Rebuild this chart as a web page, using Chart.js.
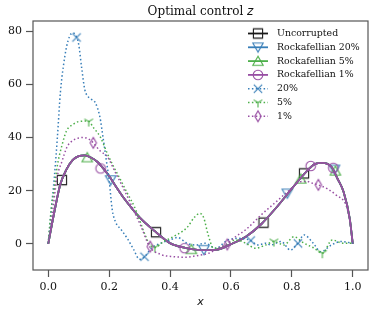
<!DOCTYPE html>
<html>
<head>
<meta charset="utf-8">
<script src="https://cdn.jsdelivr.net/npm/chart.js@4.4.0/dist/chart.umd.min.js"></script>
<style>
  html, body { margin: 0; padding: 0; background: #fff; }
  #wrap { width: 374px; height: 316px; }
</style>
</head>
<body>
<div id="wrap"><canvas id="chart" width="374" height="316"></canvas></div>
<script>
'use strict';

const xTicks = [0, 0.2, 0.4, 0.6, 0.8, 1.0];
const yTicks = [0, 20, 40, 60, 80];

// solid curve shared by uncorrupted and rockafellian solutions (they overlap)
const baseX = [0, 0.02, 0.04, 0.06, 0.08, 0.1, 0.12, 0.14, 0.16, 0.18, 0.2, 0.22, 0.25, 0.3, 0.35, 0.4, 0.45, 0.5, 0.55, 0.6, 0.65, 0.7, 0.75, 0.8, 0.85, 0.875, 0.9, 0.93, 0.95, 0.97, 0.99, 1.0];
const baseY = [0, 12, 22.5, 28, 31.5, 33, 33.3, 32.5, 31, 28.5, 25.5, 22, 17, 10, 4.8, 0.3, -1.5, -2.3, -2.2, -0.1, 2.8, 7.5, 13.8, 20.8, 27.5, 30, 30.5, 29, 24.5, 19.5, 9.5, 0];

// noisy solutions
const x20 = [0, 0.01, 0.02, 0.03, 0.04, 0.05, 0.06, 0.07, 0.08, 0.09, 0.1, 0.11, 0.12, 0.13, 0.14, 0.155, 0.17, 0.18, 0.19, 0.2, 0.21, 0.22, 0.24, 0.26, 0.28, 0.3, 0.315, 0.34, 0.37, 0.4, 0.425, 0.455, 0.485, 0.515, 0.55, 0.59, 0.625, 0.66, 0.69, 0.715, 0.73, 0.765, 0.795, 0.82, 0.84, 0.87, 0.895, 0.93, 0.96, 1.0];
const y20 = [0, 13, 25, 40, 57, 67, 74, 78, 79.3, 78.5, 75, 66, 58, 55.5, 54.5, 53, 47.5, 40, 32, 24, 13, 8.5, 5.3, 2, -2, -5.8, -5, -1.5, 0.3, 1.5, 2.4, 0.3, -0.4, 0.3, -1.6, 1.5, 2.1, 1.5, -0.4, 0.3, -0.4, 0.9, -2.3, 0.3, 3.4, 0.3, -2.9, -0.4, 0.9, 0.3];

const x5 = [0, 0.01, 0.02, 0.03, 0.045, 0.06, 0.08, 0.1, 0.13, 0.15, 0.172, 0.194, 0.215, 0.238, 0.26, 0.283, 0.3, 0.316, 0.338, 0.35, 0.379, 0.41, 0.456, 0.48, 0.498, 0.51, 0.525, 0.542, 0.555, 0.582, 0.615, 0.648, 0.681, 0.714, 0.741, 0.774, 0.807, 0.84, 0.873, 0.9, 0.933, 0.966, 1.0];
const y5 = [0, 13, 21, 29.5, 37, 42.5, 44.8, 46, 46.2, 43.5, 40, 34, 29, 24, 19, 14, 9, 4, -1, -1.3, 0.9, 2.7, 6.2, 10, 11.5, 10, 3.5, -1.5, -1.6, -0.4, 1.5, 0.3, -1.6, -0.4, 0.9, -0.4, 2.7, 0.3, -1.6, -3.5, 1.5, 0.3, 0.3];

const x1 = [0, 0.01, 0.029, 0.045, 0.062, 0.08, 0.1, 0.117, 0.135, 0.148, 0.17, 0.194, 0.22, 0.26, 0.283, 0.305, 0.333, 0.368, 0.412, 0.454, 0.484, 0.527, 0.56, 0.586, 0.615, 0.65, 0.7, 0.75, 0.785, 0.829, 0.85, 0.868, 0.887, 0.92, 0.945, 0.978, 0.99, 1.0];
const y1 = [0, 8, 25, 31, 36.5, 38.8, 39.8, 40, 39.3, 38, 35, 32.8, 27, 17.8, 12, 6.5, -1, -3.9, -4.8, -5, -4.5, -3.5, -1.6, 0, 2.7, 5.5, 11, 16, 19.5, 23.4, 23.5, 22.8, 22.2, 20.5, 18.4, 14.5, 9, 0];

// marker positions
const mkUncX = [0.045, 0.354, 0.707, 0.84];
const mkUncY = [24, 4.4, 8, 26.5];
const mkR20X = [0.205, 0.511, 0.785, 0.94];
const mkR20Y = [24, -2.2, 19, 28];
const mkR5X = [0.128, 0.47, 0.829, 0.943];
const mkR5Y = [32.5, -2, 24.5, 27.5];
const mkR1X = [0.172, 0.448, 0.862, 0.936];
const mkR1Y = [28.4, -1.6, 29.3, 28.6];
const mk20X = [0.093, 0.316, 0.665, 0.82];
const mk20Y = [77.6, -4.8, 1.3, 0.2];
const mk5X = [0.133, 0.35, 0.741, 0.9];
const mk5Y = [46, -1.3, 0.9, -3.5];
const mk1X = [0.148, 0.335, 0.588, 0.887];
const mk1Y = [38, -1, -0.2, 22.2];

const blue = '#377eb8';
const green = '#4daf4a';
const purple = '#984ea3';
const black = '#1a1a1a';
const serif = "'DejaVu Serif', serif";

function pts(xs, ys) { return xs.map((x, i) => ({x: x, y: ys[i]})); }

function markerImg(kind, color) {
  const s = 16;
  const c = document.createElement('canvas');
  c.width = s; c.height = s;
  const g = c.getContext('2d');
  g.strokeStyle = color;
  g.lineWidth = 1.1;
  g.translate(s / 2, s / 2);
  g.beginPath();
  switch (kind) {
    case 'square': g.rect(-4.6, -4.6, 9.2, 9.2); break;
    case 'tridown': g.moveTo(0, 4.8); g.lineTo(-5.2, -4.2); g.lineTo(5.2, -4.2); g.closePath(); break;
    case 'triup': g.moveTo(0, -4.8); g.lineTo(-5.2, 4.2); g.lineTo(5.2, 4.2); g.closePath(); break;
    case 'circle': g.arc(0, 0, 4.8, 0, Math.PI * 2); break;
    case 'x':
      g.moveTo(-4.2, -4.2); g.lineTo(4.2, 4.2);
      g.moveTo(4.2, -4.2); g.lineTo(-4.2, 4.2); break;
    case 'tri':
      g.moveTo(0, 0); g.lineTo(0, 5);
      g.moveTo(0, 0); g.lineTo(-4.4, -2.6);
      g.moveTo(0, 0); g.lineTo(4.4, -2.6); break;
    case 'diamond': g.moveTo(0, -5.4); g.lineTo(3.2, 0); g.lineTo(0, 5.4); g.lineTo(-3.2, 0); g.closePath(); break;
  }
  g.stroke();
  return c;
}

const series = [
  {label: 'Uncorrupted', xs: baseX, ys: baseY, mx: mkUncX, my: mkUncY, color: black, marker: 'square', dotted: false},
  {label: 'Rockafellian 20%', xs: baseX, ys: baseY, mx: mkR20X, my: mkR20Y, color: blue, marker: 'tridown', dotted: false},
  {label: 'Rockafellian 5%', xs: baseX, ys: baseY, mx: mkR5X, my: mkR5Y, color: green, marker: 'triup', dotted: false},
  {label: 'Rockafellian 1%', xs: baseX, ys: baseY, mx: mkR1X, my: mkR1Y, color: purple, marker: 'circle', dotted: false},
  {label: '20%', xs: x20, ys: y20, mx: mk20X, my: mk20Y, color: blue, marker: 'x', dotted: true},
  {label: '5%', xs: x5, ys: y5, mx: mk5X, my: mk5Y, color: green, marker: 'tri', dotted: true},
  {label: '1%', xs: x1, ys: y1, mx: mk1X, my: mk1Y, color: purple, marker: 'diamond', dotted: true}
];

const dotDash = [1.5, 2.4];
const datasets = [];
series.forEach((s, k) => {
  s.img = markerImg(s.marker, s.color);
  datasets.push({
    data: pts(s.xs, s.ys),
    borderColor: s.color,
    borderWidth: s.dotted ? 1.5 : 1.8,
    borderDash: s.dotted ? dotDash : [],
    cubicInterpolationMode: 'monotone',
    pointRadius: 0,
    fill: false,
    order: 100 - 2 * k
  });
  datasets.push({
    data: pts(s.mx, s.my),
    showLine: false,
    pointStyle: s.img,
    pointRadius: 5,
    borderColor: s.color,
    order: 99 - 2 * k
  });
});

const frameAndText = {
  id: 'frameAndText',
  afterDraw(chart) {
    const ctx = chart.ctx;
    const a = chart.chartArea;
    ctx.save();
    ctx.strokeStyle = '#555';
    ctx.lineWidth = 1.2;
    ctx.strokeRect(a.left, a.top, a.right - a.left, a.bottom - a.top);

    // title
    ctx.fillStyle = '#111';
    ctx.textBaseline = 'middle';
    const t1 = 'Optimal control ';
    ctx.font = '12px ' + serif;
    const w1 = ctx.measureText(t1).width;
    ctx.font = "italic 12px 'DejaVu Sans', sans-serif";
    const w2 = ctx.measureText('z').width;
    const cx = (a.left + a.right) / 2;
    const tx = cx - (w1 + w2) / 2;
    ctx.textAlign = 'left';
    ctx.font = '12px ' + serif;
    ctx.fillText(t1, tx, 12);
    ctx.font = "italic 12px 'DejaVu Sans', sans-serif";
    ctx.fillText('z', tx + w1, 12);

    // x label
    ctx.textAlign = 'center';
    ctx.font = "italic 11px 'DejaVu Sans', sans-serif";
    ctx.fillText('x', cx, 302);

    // legend
    const lx0 = 248, lx1 = 268, tx0 = 277;
    ctx.font = '9.4px ' + serif;
    series.forEach((s, i) => {
      const y = 33.5 + i * 13.8;
      ctx.strokeStyle = s.color;
      ctx.lineWidth = s.dotted ? 1.5 : 1.8;
      ctx.setLineDash(s.dotted ? dotDash : []);
      ctx.beginPath();
      ctx.moveTo(lx0, y);
      ctx.lineTo(lx1, y);
      ctx.stroke();
      ctx.setLineDash([]);
      ctx.drawImage(s.img, (lx0 + lx1) / 2 - s.img.width / 2, y - s.img.height / 2);
      ctx.fillStyle = '#111';
      ctx.textAlign = 'left';
      ctx.fillText(s.label, tx0, y);
    });
    ctx.restore();
  }
};

new Chart(document.getElementById('chart'), {
  type: 'line',
  data: {datasets: datasets},
  options: {
    responsive: false,
    animation: false,
    events: [],
    layout: {padding: {top: 21, right: 6, left: 0, bottom: 0}},
    plugins: {legend: {display: false}, title: {display: false}, tooltip: {enabled: false}},
    scales: {
      x: {
        type: 'linear',
        min: -0.05,
        max: 1.05,
        afterBuildTicks: (scale) => { scale.ticks = xTicks.map(v => ({value: v})); },
        afterFit: (scale) => { scale.height = 46; },
        border: {display: false},
        grid: {drawOnChartArea: false, drawTicks: true, tickLength: 7, tickColor: '#555', tickWidth: 1.2},
        ticks: {
          padding: 4,
          color: '#111',
          font: {family: serif, size: 11},
          maxRotation: 0,
          callback: (v) => v.toFixed(1)
        }
      },
      y: {
        type: 'linear',
        min: -9.8,
        max: 83.8,
        afterBuildTicks: (scale) => { scale.ticks = yTicks.map(v => ({value: v})); },
        afterFit: (scale) => { scale.width = 33; },
        border: {display: false},
        grid: {drawOnChartArea: false, drawTicks: true, tickLength: 7, tickColor: '#555', tickWidth: 1.2},
        ticks: {
          padding: 4,
          color: '#111',
          font: {family: serif, size: 11},
          callback: (v) => String(v)
        }
      }
    }
  },
  plugins: [frameAndText]
});
</script>
</body>
</html>
